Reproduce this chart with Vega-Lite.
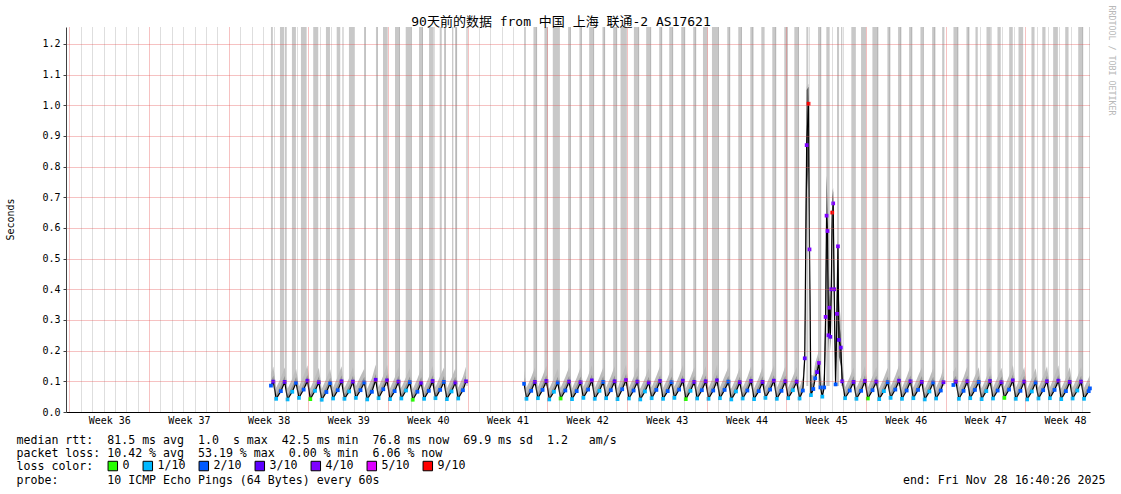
{
  "$schema": "https://vega.github.io/schema/vega-lite/v6.json",
  "width": 1024,
  "height": 385,
  "autosize": "none",
  "padding": {"left": 66, "top": 27, "right": 31, "bottom": 82},
  "background": "white",
  "config": {"view": {"stroke": null}, "font": "DejaVu Sans Mono"},
  "title": {
    "text": "90天前的数据 from 中国 上海 联通-2 AS17621",
    "font": "DejaVu Sans Mono, Noto Sans CJK SC",
    "fontSize": 13,
    "fontWeight": "normal",
    "color": "black",
    "anchor": "middle",
    "frame": "group",
    "baseline": "alphabetic",
    "offset": 0,
    "dx": -17,
    "dy": 34
  },
  "datasets": {
    "main": [
      {"t":"2025-09-17T17:00Z","m":0.086,"l":"2/10","a":0.125,"b":0.1},
      {"t":"2025-09-17T22:00Z","m":0.099,"l":"3/10","a":0.148,"b":0.118},
      {"t":"2025-09-18T04:00Z","m":0.043,"l":"1/10","a":0.079,"b":0.057},
      {"t":"2025-09-18T14:00Z","m":0.068,"l":"2/10","a":0.112,"b":0.088},
      {"t":"2025-09-18T22:00Z","m":0.098,"l":"3/10","a":0.146,"b":0.117},
      {"t":"2025-09-19T04:00Z","m":0.041,"l":"1/10","a":0.076,"b":0.055},
      {"t":"2025-09-19T14:00Z","m":0.066,"l":"1/10","a":0.108,"b":0.085},
      {"t":"2025-09-19T22:00Z","m":0.095,"l":"2/10","a":0.141,"b":0.114},
      {"t":"2025-09-20T04:00Z","m":0.046,"l":"1/10","a":0.082,"b":0.06},
      {"t":"2025-09-20T14:00Z","m":0.073,"l":"2/10","a":0.118,"b":0.092},
      {"t":"2025-09-20T22:00Z","m":0.102,"l":"3/10","a":0.152,"b":0.121},
      {"t":"2025-09-21T04:00Z","m":0.042,"l":"0","a":0.077,"b":0.056},
      {"t":"2025-09-21T14:00Z","m":0.069,"l":"1/10","a":0.113,"b":0.088},
      {"t":"2025-09-21T22:00Z","m":0.097,"l":"3/10","a":0.144,"b":0.116},
      {"t":"2025-09-22T04:00Z","m":0.04,"l":"1/10","a":0.075,"b":0.054},
      {"t":"2025-09-22T14:00Z","m":0.065,"l":"2/10","a":0.109,"b":0.084},
      {"t":"2025-09-22T22:00Z","m":0.094,"l":"2/10","a":0.139,"b":0.112},
      {"t":"2025-09-23T04:00Z","m":0.044,"l":"1/10","a":0.08,"b":0.059},
      {"t":"2025-09-23T14:00Z","m":0.071,"l":"2/10","a":0.116,"b":0.09},
      {"t":"2025-09-23T22:00Z","m":0.1,"l":"3/10","a":0.149,"b":0.119},
      {"t":"2025-09-24T04:00Z","m":0.043,"l":"1/10","a":0.078,"b":0.057},
      {"t":"2025-09-24T14:00Z","m":0.067,"l":"1/10","a":0.111,"b":0.086},
      {"t":"2025-09-24T22:00Z","m":0.099,"l":"3/10","a":0.147,"b":0.118},
      {"t":"2025-09-25T04:00Z","m":0.046,"l":"1/10","a":0.083,"b":0.061},
      {"t":"2025-09-25T14:00Z","m":0.071,"l":"2/10","a":0.117,"b":0.091},
      {"t":"2025-09-25T22:00Z","m":0.096,"l":"2/10","a":0.142,"b":0.115},
      {"t":"2025-09-26T04:00Z","m":0.041,"l":"1/10","a":0.076,"b":0.055},
      {"t":"2025-09-26T14:00Z","m":0.066,"l":"2/10","a":0.11,"b":0.085},
      {"t":"2025-09-26T22:00Z","m":0.105,"l":"3/10","a":0.155,"b":0.124},
      {"t":"2025-09-27T04:00Z","m":0.045,"l":"1/10","a":0.081,"b":0.06},
      {"t":"2025-09-27T14:00Z","m":0.074,"l":"2/10","a":0.119,"b":0.093},
      {"t":"2025-09-27T22:00Z","m":0.103,"l":"3/10","a":0.153,"b":0.122},
      {"t":"2025-09-28T04:00Z","m":0.042,"l":"1/10","a":0.077,"b":0.056},
      {"t":"2025-09-28T14:00Z","m":0.068,"l":"2/10","a":0.112,"b":0.087},
      {"t":"2025-09-28T22:00Z","m":0.099,"l":"3/10","a":0.146,"b":0.118},
      {"t":"2025-09-29T04:00Z","m":0.044,"l":"1/10","a":0.079,"b":0.058},
      {"t":"2025-09-29T14:00Z","m":0.07,"l":"1/10","a":0.114,"b":0.089},
      {"t":"2025-09-29T22:00Z","m":0.097,"l":"2/10","a":0.143,"b":0.116},
      {"t":"2025-09-30T04:00Z","m":0.04,"l":"0","a":0.074,"b":0.054},
      {"t":"2025-09-30T14:00Z","m":0.066,"l":"2/10","a":0.109,"b":0.085},
      {"t":"2025-09-30T22:00Z","m":0.095,"l":"3/10","a":0.141,"b":0.114},
      {"t":"2025-10-01T04:00Z","m":0.043,"l":"1/10","a":0.078,"b":0.057},
      {"t":"2025-10-01T14:00Z","m":0.069,"l":"2/10","a":0.113,"b":0.088},
      {"t":"2025-10-01T22:00Z","m":0.101,"l":"3/10","a":0.15,"b":0.12},
      {"t":"2025-10-02T04:00Z","m":0.045,"l":"1/10","a":0.081,"b":0.06},
      {"t":"2025-10-02T14:00Z","m":0.072,"l":"2/10","a":0.117,"b":0.091},
      {"t":"2025-10-02T22:00Z","m":0.098,"l":"2/10","a":0.145,"b":0.117},
      {"t":"2025-10-03T04:00Z","m":0.042,"l":"1/10","a":0.077,"b":0.056},
      {"t":"2025-10-03T14:00Z","m":0.067,"l":"1/10","a":0.111,"b":0.086},
      {"t":"2025-10-03T22:00Z","m":0.096,"l":"3/10","a":0.143,"b":0.115},
      {"t":"2025-10-04T04:00Z","m":0.044,"l":"1/10","a":0.079,"b":0.058},
      {"t":"2025-10-04T14:00Z","m":0.071,"l":"2/10","a":0.115,"b":0.09},
      {"t":"2025-10-04T20:30Z","m":0.1,"l":"3/10","a":0.148,"b":0.119},
      {"t":"2025-10-07T00:00Z","m":null,"l":null,"a":null,"b":null},
      {"t":"2025-10-09T23:00Z","m":0.092,"l":"2/10","a":0.138,"b":0.112},
      {"t":"2025-10-10T04:00Z","m":0.043,"l":"1/10","a":0.079,"b":0.057},
      {"t":"2025-10-10T14:00Z","m":0.069,"l":"2/10","a":0.113,"b":0.088},
      {"t":"2025-10-10T22:00Z","m":0.098,"l":"3/10","a":0.146,"b":0.117},
      {"t":"2025-10-11T04:00Z","m":0.045,"l":"1/10","a":0.081,"b":0.06},
      {"t":"2025-10-11T14:00Z","m":0.072,"l":"2/10","a":0.117,"b":0.091},
      {"t":"2025-10-11T22:00Z","m":0.101,"l":"3/10","a":0.151,"b":0.12},
      {"t":"2025-10-12T04:00Z","m":0.041,"l":"1/10","a":0.076,"b":0.055},
      {"t":"2025-10-12T14:00Z","m":0.066,"l":"1/10","a":0.11,"b":0.085},
      {"t":"2025-10-12T22:00Z","m":0.096,"l":"2/10","a":0.142,"b":0.115},
      {"t":"2025-10-13T04:00Z","m":0.044,"l":"0","a":0.079,"b":0.058},
      {"t":"2025-10-13T14:00Z","m":0.07,"l":"2/10","a":0.114,"b":0.089},
      {"t":"2025-10-13T22:00Z","m":0.099,"l":"3/10","a":0.147,"b":0.118},
      {"t":"2025-10-14T04:00Z","m":0.042,"l":"1/10","a":0.077,"b":0.056},
      {"t":"2025-10-14T14:00Z","m":0.068,"l":"2/10","a":0.112,"b":0.087},
      {"t":"2025-10-14T22:00Z","m":0.097,"l":"3/10","a":0.144,"b":0.116},
      {"t":"2025-10-15T04:00Z","m":0.046,"l":"1/10","a":0.082,"b":0.061},
      {"t":"2025-10-15T14:00Z","m":0.073,"l":"2/10","a":0.118,"b":0.092},
      {"t":"2025-10-15T22:00Z","m":0.103,"l":"3/10","a":0.153,"b":0.122},
      {"t":"2025-10-16T04:00Z","m":0.043,"l":"1/10","a":0.078,"b":0.057},
      {"t":"2025-10-16T14:00Z","m":0.069,"l":"1/10","a":0.113,"b":0.088},
      {"t":"2025-10-16T22:00Z","m":0.098,"l":"2/10","a":0.145,"b":0.117},
      {"t":"2025-10-17T04:00Z","m":0.045,"l":"1/10","a":0.08,"b":0.059},
      {"t":"2025-10-17T14:00Z","m":0.071,"l":"2/10","a":0.116,"b":0.09},
      {"t":"2025-10-17T22:00Z","m":0.1,"l":"3/10","a":0.149,"b":0.119},
      {"t":"2025-10-18T04:00Z","m":0.042,"l":"1/10","a":0.077,"b":0.056},
      {"t":"2025-10-18T14:00Z","m":0.074,"l":"2/10","a":0.119,"b":0.093},
      {"t":"2025-10-18T22:00Z","m":0.104,"l":"4/10","a":0.155,"b":0.124},
      {"t":"2025-10-19T04:00Z","m":0.044,"l":"1/10","a":0.079,"b":0.058},
      {"t":"2025-10-19T14:00Z","m":0.07,"l":"2/10","a":0.114,"b":0.089},
      {"t":"2025-10-19T22:00Z","m":0.099,"l":"3/10","a":0.147,"b":0.118},
      {"t":"2025-10-20T04:00Z","m":0.041,"l":"1/10","a":0.076,"b":0.055},
      {"t":"2025-10-20T14:00Z","m":0.067,"l":"1/10","a":0.111,"b":0.086},
      {"t":"2025-10-20T22:00Z","m":0.096,"l":"3/10","a":0.143,"b":0.115},
      {"t":"2025-10-21T04:00Z","m":0.045,"l":"1/10","a":0.081,"b":0.06},
      {"t":"2025-10-21T14:00Z","m":0.072,"l":"2/10","a":0.117,"b":0.091},
      {"t":"2025-10-21T22:00Z","m":0.101,"l":"3/10","a":0.15,"b":0.12},
      {"t":"2025-10-22T04:00Z","m":0.043,"l":"1/10","a":0.078,"b":0.057},
      {"t":"2025-10-22T14:00Z","m":0.068,"l":"2/10","a":0.112,"b":0.087},
      {"t":"2025-10-22T22:00Z","m":0.097,"l":"2/10","a":0.144,"b":0.116},
      {"t":"2025-10-23T04:00Z","m":0.046,"l":"1/10","a":0.082,"b":0.061},
      {"t":"2025-10-23T14:00Z","m":0.073,"l":"2/10","a":0.118,"b":0.092},
      {"t":"2025-10-23T22:00Z","m":0.102,"l":"3/10","a":0.152,"b":0.121},
      {"t":"2025-10-24T04:00Z","m":0.042,"l":"0","a":0.077,"b":0.056},
      {"t":"2025-10-24T14:00Z","m":0.069,"l":"1/10","a":0.113,"b":0.088},
      {"t":"2025-10-24T22:00Z","m":0.098,"l":"3/10","a":0.146,"b":0.117},
      {"t":"2025-10-25T04:00Z","m":0.044,"l":"1/10","a":0.079,"b":0.058},
      {"t":"2025-10-25T14:00Z","m":0.071,"l":"2/10","a":0.116,"b":0.09},
      {"t":"2025-10-25T22:00Z","m":0.1,"l":"3/10","a":0.149,"b":0.119},
      {"t":"2025-10-26T04:00Z","m":0.043,"l":"1/10","a":0.078,"b":0.057},
      {"t":"2025-10-26T14:00Z","m":0.07,"l":"2/10","a":0.115,"b":0.09},
      {"t":"2025-10-26T22:00Z","m":0.103,"l":"3/10","a":0.153,"b":0.122},
      {"t":"2025-10-27T04:00Z","m":0.045,"l":"1/10","a":0.08,"b":0.059},
      {"t":"2025-10-27T14:00Z","m":0.072,"l":"2/10","a":0.117,"b":0.091},
      {"t":"2025-10-27T22:00Z","m":0.099,"l":"2/10","a":0.147,"b":0.118},
      {"t":"2025-10-28T04:00Z","m":0.041,"l":"1/10","a":0.076,"b":0.055},
      {"t":"2025-10-28T14:00Z","m":0.067,"l":"1/10","a":0.111,"b":0.086},
      {"t":"2025-10-28T22:00Z","m":0.097,"l":"3/10","a":0.144,"b":0.116},
      {"t":"2025-10-29T04:00Z","m":0.044,"l":"1/10","a":0.079,"b":0.058},
      {"t":"2025-10-29T14:00Z","m":0.07,"l":"2/10","a":0.114,"b":0.089},
      {"t":"2025-10-29T22:00Z","m":0.101,"l":"3/10","a":0.15,"b":0.12},
      {"t":"2025-10-30T04:00Z","m":0.042,"l":"1/10","a":0.077,"b":0.056},
      {"t":"2025-10-30T14:00Z","m":0.068,"l":"2/10","a":0.112,"b":0.087},
      {"t":"2025-10-30T22:00Z","m":0.098,"l":"3/10","a":0.146,"b":0.117},
      {"t":"2025-10-31T04:00Z","m":0.046,"l":"1/10","a":0.082,"b":0.061},
      {"t":"2025-10-31T14:00Z","m":0.073,"l":"2/10","a":0.118,"b":0.092},
      {"t":"2025-10-31T22:00Z","m":0.102,"l":"3/10","a":0.152,"b":0.121},
      {"t":"2025-11-01T04:00Z","m":0.043,"l":"1/10","a":0.078,"b":0.057},
      {"t":"2025-11-01T14:00Z","m":0.069,"l":"2/10","a":0.113,"b":0.088},
      {"t":"2025-11-01T22:00Z","m":0.1,"l":"3/10","a":0.149,"b":0.119},
      {"t":"2025-11-02T04:00Z","m":0.045,"l":"1/10","a":0.08,"b":0.059},
      {"t":"2025-11-02T14:00Z","m":0.071,"l":"1/10","a":0.116,"b":0.09},
      {"t":"2025-11-02T22:00Z","m":0.099,"l":"3/10","a":0.147,"b":0.118},
      {"t":"2025-11-03T04:00Z","m":0.044,"l":"1/10","a":0.079,"b":0.058},
      {"t":"2025-11-03T11:00Z","m":0.07,"l":"2/10","a":0.115,"b":0.09},
      {"t":"2025-11-03T15:00Z","m":0.175,"l":"3/10","a":0.23,"b":0.2},
      {"t":"2025-11-03T19:00Z","m":0.87,"l":"4/10","a":1.06,"b":0.98},
      {"t":"2025-11-03T23:00Z","m":1.005,"l":"9/10","a":1.07,"b":1.04},
      {"t":"2025-11-04T01:00Z","m":0.53,"l":"4/10","a":0.72,"b":0.62},
      {"t":"2025-11-04T04:00Z","m":0.055,"l":"1/10","a":0.12,"b":0.09},
      {"t":"2025-11-04T09:00Z","m":0.075,"l":"2/10","a":0.12,"b":0.095},
      {"t":"2025-11-04T13:00Z","m":0.11,"l":"2/10","a":0.16,"b":0.13},
      {"t":"2025-11-04T17:00Z","m":0.13,"l":"3/10","a":0.18,"b":0.155},
      {"t":"2025-11-04T21:00Z","m":0.16,"l":"4/10","a":0.2,"b":0.18},
      {"t":"2025-11-05T00:00Z","m":0.08,"l":"2/10","a":0.13,"b":0.1},
      {"t":"2025-11-05T04:00Z","m":0.05,"l":"1/10","a":0.09,"b":0.07},
      {"t":"2025-11-05T08:00Z","m":0.08,"l":"2/10","a":0.13,"b":0.1},
      {"t":"2025-11-05T11:00Z","m":0.31,"l":"4/10","a":0.45,"b":0.38},
      {"t":"2025-11-05T13:00Z","m":0.64,"l":"4/10","a":0.77,"b":0.7},
      {"t":"2025-11-05T15:00Z","m":0.59,"l":"4/10","a":0.7,"b":0.64},
      {"t":"2025-11-05T17:00Z","m":0.25,"l":"4/10","a":0.4,"b":0.3},
      {"t":"2025-11-05T19:00Z","m":0.34,"l":"4/10","a":0.45,"b":0.39},
      {"t":"2025-11-05T21:00Z","m":0.245,"l":"3/10","a":0.35,"b":0.29},
      {"t":"2025-11-05T23:00Z","m":0.4,"l":"4/10","a":0.55,"b":0.47},
      {"t":"2025-11-06T01:00Z","m":0.65,"l":"9/10","a":0.72,"b":0.68},
      {"t":"2025-11-06T03:00Z","m":0.68,"l":"4/10","a":0.73,"b":0.7},
      {"t":"2025-11-06T05:00Z","m":0.4,"l":"4/10","a":0.55,"b":0.47},
      {"t":"2025-11-06T08:00Z","m":0.09,"l":"2/10","a":0.2,"b":0.14},
      {"t":"2025-11-06T11:00Z","m":0.32,"l":"4/10","a":0.5,"b":0.4},
      {"t":"2025-11-06T13:00Z","m":0.54,"l":"4/10","a":0.6,"b":0.56},
      {"t":"2025-11-06T15:00Z","m":0.235,"l":"3/10","a":0.37,"b":0.3},
      {"t":"2025-11-06T19:00Z","m":0.21,"l":"3/10","a":0.3,"b":0.25},
      {"t":"2025-11-06T22:00Z","m":0.1,"l":"3/10","a":0.16,"b":0.13},
      {"t":"2025-11-07T04:00Z","m":0.045,"l":"1/10","a":0.081,"b":0.06},
      {"t":"2025-11-07T14:00Z","m":0.07,"l":"2/10","a":0.114,"b":0.089},
      {"t":"2025-11-07T22:00Z","m":0.098,"l":"3/10","a":0.146,"b":0.117},
      {"t":"2025-11-08T04:00Z","m":0.043,"l":"1/10","a":0.078,"b":0.057},
      {"t":"2025-11-08T14:00Z","m":0.069,"l":"2/10","a":0.113,"b":0.088},
      {"t":"2025-11-08T22:00Z","m":0.101,"l":"3/10","a":0.15,"b":0.12},
      {"t":"2025-11-09T04:00Z","m":0.044,"l":"0","a":0.079,"b":0.058},
      {"t":"2025-11-09T14:00Z","m":0.071,"l":"2/10","a":0.116,"b":0.09},
      {"t":"2025-11-09T22:00Z","m":0.099,"l":"3/10","a":0.147,"b":0.118},
      {"t":"2025-11-10T04:00Z","m":0.042,"l":"1/10","a":0.077,"b":0.056},
      {"t":"2025-11-10T14:00Z","m":0.068,"l":"1/10","a":0.112,"b":0.087},
      {"t":"2025-11-10T22:00Z","m":0.097,"l":"2/10","a":0.144,"b":0.116},
      {"t":"2025-11-11T04:00Z","m":0.046,"l":"1/10","a":0.082,"b":0.061},
      {"t":"2025-11-11T14:00Z","m":0.073,"l":"2/10","a":0.118,"b":0.092},
      {"t":"2025-11-11T22:00Z","m":0.102,"l":"3/10","a":0.152,"b":0.121},
      {"t":"2025-11-12T04:00Z","m":0.043,"l":"1/10","a":0.078,"b":0.057},
      {"t":"2025-11-12T14:00Z","m":0.07,"l":"2/10","a":0.115,"b":0.09},
      {"t":"2025-11-12T22:00Z","m":0.1,"l":"3/10","a":0.149,"b":0.119},
      {"t":"2025-11-13T04:00Z","m":0.045,"l":"1/10","a":0.08,"b":0.059},
      {"t":"2025-11-13T14:00Z","m":0.072,"l":"2/10","a":0.117,"b":0.091},
      {"t":"2025-11-13T22:00Z","m":0.098,"l":"3/10","a":0.146,"b":0.117},
      {"t":"2025-11-14T04:00Z","m":0.041,"l":"1/10","a":0.076,"b":0.055},
      {"t":"2025-11-14T14:00Z","m":0.067,"l":"1/10","a":0.111,"b":0.086},
      {"t":"2025-11-14T22:00Z","m":0.096,"l":"2/10","a":0.143,"b":0.115},
      {"t":"2025-11-15T04:00Z","m":0.044,"l":"1/10","a":0.079,"b":0.058},
      {"t":"2025-11-15T14:00Z","m":0.07,"l":"2/10","a":0.114,"b":0.089},
      {"t":"2025-11-15T19:40Z","m":0.097,"l":"3/10","a":0.145,"b":0.117},
      {"t":"2025-11-16T06:00Z","m":null,"l":null,"a":null,"b":null},
      {"t":"2025-11-16T16:30Z","m":0.088,"l":"2/10","a":0.132,"b":0.106},
      {"t":"2025-11-16T22:00Z","m":0.099,"l":"3/10","a":0.147,"b":0.118},
      {"t":"2025-11-17T04:00Z","m":0.043,"l":"1/10","a":0.078,"b":0.057},
      {"t":"2025-11-17T14:00Z","m":0.069,"l":"2/10","a":0.113,"b":0.088},
      {"t":"2025-11-17T22:00Z","m":0.1,"l":"3/10","a":0.149,"b":0.119},
      {"t":"2025-11-18T04:00Z","m":0.045,"l":"1/10","a":0.081,"b":0.06},
      {"t":"2025-11-18T14:00Z","m":0.072,"l":"2/10","a":0.117,"b":0.091},
      {"t":"2025-11-18T22:00Z","m":0.098,"l":"2/10","a":0.146,"b":0.117},
      {"t":"2025-11-19T04:00Z","m":0.042,"l":"1/10","a":0.077,"b":0.056},
      {"t":"2025-11-19T14:00Z","m":0.068,"l":"1/10","a":0.112,"b":0.087},
      {"t":"2025-11-19T22:00Z","m":0.101,"l":"3/10","a":0.15,"b":0.12},
      {"t":"2025-11-20T04:00Z","m":0.044,"l":"1/10","a":0.079,"b":0.058},
      {"t":"2025-11-20T14:00Z","m":0.07,"l":"2/10","a":0.114,"b":0.089},
      {"t":"2025-11-20T22:00Z","m":0.097,"l":"3/10","a":0.144,"b":0.116},
      {"t":"2025-11-21T04:00Z","m":0.046,"l":"0","a":0.082,"b":0.061},
      {"t":"2025-11-21T14:00Z","m":0.073,"l":"2/10","a":0.118,"b":0.092},
      {"t":"2025-11-21T22:00Z","m":0.103,"l":"3/10","a":0.153,"b":0.122},
      {"t":"2025-11-22T04:00Z","m":0.043,"l":"1/10","a":0.078,"b":0.057},
      {"t":"2025-11-22T14:00Z","m":0.069,"l":"2/10","a":0.113,"b":0.088},
      {"t":"2025-11-22T22:00Z","m":0.099,"l":"3/10","a":0.147,"b":0.118},
      {"t":"2025-11-23T04:00Z","m":0.041,"l":"1/10","a":0.076,"b":0.055},
      {"t":"2025-11-23T14:00Z","m":0.067,"l":"1/10","a":0.111,"b":0.086},
      {"t":"2025-11-23T22:00Z","m":0.096,"l":"2/10","a":0.143,"b":0.115},
      {"t":"2025-11-24T04:00Z","m":0.044,"l":"1/10","a":0.079,"b":0.058},
      {"t":"2025-11-24T14:00Z","m":0.071,"l":"2/10","a":0.116,"b":0.09},
      {"t":"2025-11-24T22:00Z","m":0.1,"l":"3/10","a":0.149,"b":0.119},
      {"t":"2025-11-25T04:00Z","m":0.045,"l":"1/10","a":0.08,"b":0.059},
      {"t":"2025-11-25T14:00Z","m":0.072,"l":"2/10","a":0.117,"b":0.091},
      {"t":"2025-11-25T22:00Z","m":0.102,"l":"3/10","a":0.152,"b":0.121},
      {"t":"2025-11-26T04:00Z","m":0.042,"l":"1/10","a":0.077,"b":0.056},
      {"t":"2025-11-26T14:00Z","m":0.068,"l":"2/10","a":0.112,"b":0.087},
      {"t":"2025-11-26T22:00Z","m":0.098,"l":"3/10","a":0.146,"b":0.117},
      {"t":"2025-11-27T04:00Z","m":0.044,"l":"1/10","a":0.079,"b":0.058},
      {"t":"2025-11-27T14:00Z","m":0.07,"l":"1/10","a":0.114,"b":0.089},
      {"t":"2025-11-27T22:00Z","m":0.099,"l":"3/10","a":0.147,"b":0.118},
      {"t":"2025-11-28T04:00Z","m":0.043,"l":"1/10","a":0.078,"b":0.057},
      {"t":"2025-11-28T14:00Z","m":0.068,"l":"2/10","a":0.112,"b":0.087},
      {"t":"2025-11-28T16:30Z","m":0.077,"l":"2/10","a":0.12,"b":0.095}
    ],
    "spike": [
      {"t":"2025-11-03T15:00Z","lo":0.12,"hi":0.22},
      {"t":"2025-11-03T19:00Z","lo":0.71,"hi":1.05},
      {"t":"2025-11-03T23:00Z","lo":0.8,"hi":1.06},
      {"t":"2025-11-04T01:00Z","lo":0.45,"hi":0.6},
      {"t":"2025-11-04T04:00Z","lo":0.05,"hi":0.07},
      {"t":"2025-11-04T12:00Z","lo":null,"hi":null},
      {"t":"2025-11-05T08:00Z","lo":0.07,"hi":0.09},
      {"t":"2025-11-05T11:00Z","lo":0.2,"hi":0.35},
      {"t":"2025-11-05T13:00Z","lo":0.5,"hi":0.77},
      {"t":"2025-11-05T15:00Z","lo":0.45,"hi":0.66},
      {"t":"2025-11-05T17:00Z","lo":0.2,"hi":0.3},
      {"t":"2025-11-05T19:00Z","lo":0.28,"hi":0.4},
      {"t":"2025-11-05T21:00Z","lo":0.2,"hi":0.3},
      {"t":"2025-11-05T23:00Z","lo":0.35,"hi":0.5},
      {"t":"2025-11-06T01:00Z","lo":0.55,"hi":0.7},
      {"t":"2025-11-06T03:00Z","lo":0.6,"hi":0.72},
      {"t":"2025-11-06T05:00Z","lo":0.3,"hi":0.45},
      {"t":"2025-11-06T08:00Z","lo":0.08,"hi":0.15},
      {"t":"2025-11-06T11:00Z","lo":0.25,"hi":0.4},
      {"t":"2025-11-06T13:00Z","lo":0.4,"hi":0.56},
      {"t":"2025-11-06T15:00Z","lo":0.18,"hi":0.3},
      {"t":"2025-11-06T19:00Z","lo":0.15,"hi":0.25},
      {"t":"2025-11-06T22:00Z","lo":0.08,"hi":0.12}
    ],
    "bars": [
      {"t":"2025-09-17T17:00Z","e":"2025-09-17T21:00Z"},
      {"t":"2025-09-18T12:00Z","e":"2025-09-18T21:00Z"},
      {"t":"2025-09-18T22:30Z","e":"2025-09-19T01:10Z"},
      {"t":"2025-09-19T13:15Z","e":"2025-09-19T21:40Z"},
      {"t":"2025-09-20T08:15Z","e":"2025-09-20T20:15Z"},
      {"t":"2025-09-21T10:10Z","e":"2025-09-21T20:45Z"},
      {"t":"2025-09-22T13:00Z","e":"2025-09-22T21:30Z"},
      {"t":"2025-09-23T11:40Z","e":"2025-09-23T19:10Z"},
      {"t":"2025-09-23T23:20Z","e":"2025-09-24T00:40Z"},
      {"t":"2025-09-24T13:30Z","e":"2025-09-25T00:45Z"},
      {"t":"2025-09-25T21:15Z","e":"2025-09-26T00:50Z"},
      {"t":"2025-09-26T22:30Z","e":"2025-09-27T02:10Z"},
      {"t":"2025-09-27T13:20Z","e":"2025-09-27T23:15Z"},
      {"t":"2025-09-28T14:40Z","e":"2025-09-29T01:10Z"},
      {"t":"2025-09-29T13:15Z","e":"2025-09-30T01:55Z"},
      {"t":"2025-09-30T17:20Z","e":"2025-10-01T01:45Z"},
      {"t":"2025-10-01T14:30Z","e":"2025-10-02T00:20Z"},
      {"t":"2025-10-02T13:00Z","e":"2025-10-02T17:15Z"},
      {"t":"2025-10-02T22:05Z","e":"2025-10-03T01:40Z"},
      {"t":"2025-10-03T15:00Z","e":"2025-10-03T17:45Z"},
      {"t":"2025-10-03T21:20Z","e":"2025-10-04T01:40Z"},
      {"t":"2025-10-04T21:10Z","e":"2025-10-05T00:00Z"},
      {"t":"2025-10-09T23:00Z","e":"2025-10-10T01:40Z"},
      {"t":"2025-10-10T18:40Z","e":"2025-10-11T02:25Z"},
      {"t":"2025-10-11T17:50Z","e":"2025-10-12T01:00Z"},
      {"t":"2025-10-12T11:30Z","e":"2025-10-13T01:30Z"},
      {"t":"2025-10-13T19:50Z","e":"2025-10-14T01:35Z"},
      {"t":"2025-10-14T19:40Z","e":"2025-10-15T00:45Z"},
      {"t":"2025-10-15T16:15Z","e":"2025-10-16T02:45Z"},
      {"t":"2025-10-16T20:15Z","e":"2025-10-17T01:55Z"},
      {"t":"2025-10-17T18:55Z","e":"2025-10-18T03:20Z"},
      {"t":"2025-10-18T10:20Z","e":"2025-10-18T23:45Z"},
      {"t":"2025-10-19T14:35Z","e":"2025-10-20T01:45Z"},
      {"t":"2025-10-20T16:30Z","e":"2025-10-21T03:05Z"},
      {"t":"2025-10-21T20:00Z","e":"2025-10-22T02:20Z"},
      {"t":"2025-10-22T17:05Z","e":"2025-10-23T01:30Z"},
      {"t":"2025-10-23T18:25Z","e":"2025-10-24T02:50Z"},
      {"t":"2025-10-24T19:45Z","e":"2025-10-25T02:05Z"},
      {"t":"2025-10-25T16:15Z","e":"2025-10-26T01:55Z"},
      {"t":"2025-10-26T11:15Z","e":"2025-10-27T02:00Z"},
      {"t":"2025-10-27T19:30Z","e":"2025-10-28T01:50Z"},
      {"t":"2025-10-28T18:45Z","e":"2025-10-29T02:30Z"},
      {"t":"2025-10-29T20:05Z","e":"2025-10-30T03:05Z"},
      {"t":"2025-10-30T19:20Z","e":"2025-10-31T01:00Z"},
      {"t":"2025-10-31T18:30Z","e":"2025-11-01T02:55Z"},
      {"t":"2025-11-01T19:50Z","e":"2025-11-02T03:40Z"},
      {"t":"2025-11-02T17:00Z","e":"2025-11-03T02:55Z"},
      {"t":"2025-11-03T18:20Z","e":"2025-11-03T22:30Z"},
      {"t":"2025-11-04T19:00Z","e":"2025-11-05T01:55Z"},
      {"t":"2025-11-05T12:30Z","e":"2025-11-05T19:30Z"},
      {"t":"2025-11-06T11:00Z","e":"2025-11-06T15:20Z"},
      {"t":"2025-11-06T19:35Z","e":"2025-11-06T22:15Z"},
      {"t":"2025-11-07T17:15Z","e":"2025-11-08T01:45Z"},
      {"t":"2025-11-08T13:45Z","e":"2025-11-09T00:20Z"},
      {"t":"2025-11-09T13:40Z","e":"2025-11-10T02:20Z"},
      {"t":"2025-11-10T21:20Z","e":"2025-11-11T03:40Z"},
      {"t":"2025-11-11T19:50Z","e":"2025-11-12T02:50Z"},
      {"t":"2025-11-12T19:05Z","e":"2025-11-13T02:00Z"},
      {"t":"2025-11-13T19:00Z","e":"2025-11-14T01:55Z"},
      {"t":"2025-11-14T19:40Z","e":"2025-11-15T02:40Z"},
      {"t":"2025-11-15T16:50Z","e":"2025-11-15T21:35Z"},
      {"t":"2025-11-16T16:40Z","e":"2025-11-17T03:10Z"},
      {"t":"2025-11-17T20:05Z","e":"2025-11-18T02:25Z"},
      {"t":"2025-11-18T15:05Z","e":"2025-11-18T19:55Z"},
      {"t":"2025-11-19T14:20Z","e":"2025-11-19T23:25Z"},
      {"t":"2025-11-20T13:30Z","e":"2025-11-20T20:25Z"},
      {"t":"2025-11-21T14:10Z","e":"2025-11-21T21:45Z"},
      {"t":"2025-11-22T09:50Z","e":"2025-11-22T19:40Z"},
      {"t":"2025-11-23T13:10Z","e":"2025-11-23T19:40Z"},
      {"t":"2025-11-24T12:00Z","e":"2025-11-24T18:50Z"},
      {"t":"2025-11-25T11:00Z","e":"2025-11-25T20:55Z"},
      {"t":"2025-11-26T12:25Z","e":"2025-11-26T19:25Z"},
      {"t":"2025-11-27T15:50Z","e":"2025-11-28T02:25Z"},
      {"t":"2025-11-28T15:05Z","e":"2025-11-28T16:40Z"}
    ]
  },
  "encoding": {
    "x": {
      "field": "t",
      "type": "temporal",
      "scale": {"type": "utc", "domain": ["2025-08-30T16:40:26Z", "2025-11-28T16:40:26Z"], "nice": false},
      "axis": {
        "orient": "bottom",
        "tickCount": {"interval": "day", "step": 1},
        "grid": true,
        "gridColor": {"condition": {"test": "utcday(datum.value) === 0", "value": "rgba(229,80,80,0.7)"}, "value": "rgba(143,143,143,0.6)"},
        "gridDash": [1, 1],
        "gridWidth": 1,
        "ticks": false,
        "domain": true,
        "domainColor": "#000000",
        "domainWidth": 1,
        "labelExpr": "utcday(datum.value) === 3 ? 'Week ' + utcFormat(datum.value, '%V') : ''",
        "labelOffset": 5.7,
        "labelAlign": "center",
        "labelBaseline": "top",
        "labelFont": "DejaVu Sans Mono",
        "labelFontSize": 10,
        "labelColor": "#000000",
        "labelPadding": 3,
        "labelOverlap": false,
        "labelFlush": false,
        "labelBound": false,
        "labelLimit": 200,
        "title": [
          "median\u00a0rtt:\u00a0\u00a081.5\u00a0ms\u00a0avg\u00a0\u00a01.0\u00a0\u00a0s\u00a0max\u00a0\u00a042.5\u00a0ms\u00a0min\u00a0\u00a076.8\u00a0ms\u00a0now\u00a0\u00a069.9\u00a0ms\u00a0sd\u00a0\u00a01.2\u00a0\u00a0\u00a0am/s",
          "packet\u00a0loss:\u00a010.42\u00a0%\u00a0avg\u00a0\u00a053.19\u00a0%\u00a0max\u00a0\u00a00.00\u00a0%\u00a0min\u00a0\u00a06.06\u00a0%\u00a0now",
          "loss\u00a0color:",
          "probe:\u00a0\u00a0\u00a0\u00a0\u00a0\u00a0\u00a010\u00a0ICMP\u00a0Echo\u00a0Pings\u00a0(64\u00a0Bytes)\u00a0every\u00a060s\u00a0\u00a0\u00a0\u00a0\u00a0\u00a0\u00a0\u00a0\u00a0\u00a0\u00a0\u00a0\u00a0\u00a0\u00a0\u00a0\u00a0\u00a0\u00a0\u00a0\u00a0\u00a0\u00a0\u00a0\u00a0\u00a0\u00a0\u00a0\u00a0\u00a0\u00a0\u00a0\u00a0\u00a0\u00a0\u00a0\u00a0\u00a0\u00a0\u00a0\u00a0\u00a0\u00a0\u00a0\u00a0\u00a0\u00a0\u00a0\u00a0\u00a0\u00a0\u00a0\u00a0\u00a0\u00a0\u00a0\u00a0\u00a0\u00a0\u00a0\u00a0\u00a0\u00a0\u00a0\u00a0\u00a0\u00a0\u00a0\u00a0\u00a0\u00a0\u00a0\u00a0\u00a0\u00a0end:\u00a0Fri\u00a0Nov\u00a028\u00a016:40:26\u00a02025"
        ],
        "titleFont": "DejaVu Sans Mono",
        "titleFontSize": 11.6,
        "titleFontWeight": "normal",
        "titleColor": "#000000",
        "titleAlign": "left",
        "titleBaseline": "alphabetic",
        "titleX": -50,
        "titleY": 31,
        "titleLineHeight": 13.4,
        "titleLimit": 3000,
        "zindex": 1
      }
    }
  },
  "resolve": {"axis": {"y": "independent"}},
  "layer": [
    {
      "data": {"name": "bars"},
      "mark": {"type": "rect", "color": "#c8c8c8", "clip": true},
      "encoding": {
        "x2": {"field": "e"},
        "y": {
          "datum": 0.085,
          "type": "quantitative",
          "scale": {"domain": [0, 1.255], "nice": false, "zero": false},
          "axis": {
            "orient": "right",
            "labels": false,
            "ticks": false,
            "domain": false,
            "grid": false,
            "title": "RRDTOOL / TOBI OETIKER",
            "titleFont": "DejaVu Sans Mono",
            "titleFontSize": 8.3,
            "titleFontWeight": "normal",
            "titleColor": "#b8b8b8",
            "titleAngle": 90,
            "titleAlign": "left",
            "titleBaseline": "middle",
            "titleX": 20,
            "titleY": -22
          }
        },
        "y2": {"datum": 1.3}
      }
    },
    {
      "data": {"name": "main"},
      "mark": {"type": "area", "color": "#bdbdbd", "opacity": 1, "invalid": "break-paths-filter-domains"},
      "encoding": {
        "y": {
          "field": "m",
          "type": "quantitative",
          "scale": {"domain": [0, 1.255], "nice": false, "zero": false},
          "axis": {
            "orient": "left",
            "values": [0, 0.1, 0.2, 0.3, 0.4, 0.5, 0.6, 0.7, 0.8, 0.9, 1.0, 1.1, 1.2],
            "format": ".1f",
            "grid": true,
            "gridColor": "rgba(229,80,80,0.7)",
            "gridDash": [1, 1],
            "gridWidth": 1,
            "domain": true,
            "domainColor": "#404040",
            "tickSize": 3,
            "tickColor": "#404040",
            "labelFont": "DejaVu Sans Mono",
            "labelFontSize": 10,
            "labelColor": "#000000",
            "labelPadding": 3,
            "title": "Seconds",
            "titleFont": "DejaVu Sans Mono",
            "titleFontSize": 10,
            "titleFontWeight": "normal",
            "titleColor": "#000000",
            "titleAngle": -90,
            "titleAlign": "center",
            "titleBaseline": "middle",
            "titleX": -56,
            "titleY": 192,
            "zindex": 1
          }
        },
        "y2": {"field": "a"}
      }
    },
    {
      "data": {"name": "main"},
      "mark": {"type": "area", "color": "#959595", "opacity": 1, "invalid": "break-paths-filter-domains"},
      "encoding": {
        "y": {"field": "m", "type": "quantitative", "scale": {"domain": [0, 1.255], "nice": false, "zero": false}, "axis": null},
        "y2": {"field": "b"}
      }
    },
    {
      "data": {"name": "spike"},
      "mark": {"type": "area", "color": "#5e5e5e", "opacity": 1, "invalid": "break-paths-filter-domains"},
      "encoding": {
        "y": {"field": "lo", "type": "quantitative", "scale": {"domain": [0, 1.255], "nice": false, "zero": false}, "axis": null},
        "y2": {"field": "hi"}
      }
    },
    {
      "data": {"name": "main"},
      "mark": {"type": "line", "color": "#000000", "strokeWidth": 1.2, "invalid": "break-paths-filter-domains"},
      "encoding": {
        "y": {"field": "m", "type": "quantitative", "scale": {"domain": [0, 1.255], "nice": false, "zero": false}, "axis": null}
      }
    },
    {
      "data": {"name": "main"},
      "mark": {"type": "point", "shape": "square", "filled": true, "size": 14, "opacity": 1},
      "encoding": {
        "y": {"field": "m", "type": "quantitative", "scale": {"domain": [0, 1.255], "nice": false, "zero": false}, "axis": null},
        "color": {
          "field": "l",
          "type": "nominal",
          "scale": {
            "domain": ["0", "1/10", "2/10", "3/10", "4/10", "5/10", "9/10"],
            "range": ["#26ff00", "#00b8ff", "#0059ff", "#5e00ff", "#7e00ff", "#dd00ff", "#ff0000"]
          },
          "legend": {
            "orient": "none",
            "legendX": 41,
            "legendY": 433,
            "direction": "horizontal",
            "title": null,
            "symbolType": "square",
            "symbolSize": 90,
            "symbolStrokeColor": "#000000",
            "symbolStrokeWidth": 1,
            "symbolOpacity": 1,
            "labelFont": "DejaVu Sans Mono",
            "labelFontSize": 11.6,
            "labelColor": "#000000",
            "labelOffset": 4,
            "columnPadding": 11,
            "padding": 0,
            "labelLimit": 0
          }
        }
      }
    },
    {
      "data": {"values": [{}]},
      "mark": {"type": "point", "shape": "triangle-right", "filled": true, "color": "#800000", "size": 30, "opacity": 1, "xOffset": 4},
      "encoding": {
        "x": {"datum": {"year": 2025, "month": 11, "date": 28, "hours": 16, "minutes": 40, "seconds": 26, "utc": true}, "type": "temporal"},
        "y": {"datum": 0, "type": "quantitative", "scale": {"domain": [0, 1.255], "nice": false, "zero": false}, "axis": null}
      }
    },
    {
      "data": {"values": [{}]},
      "mark": {"type": "point", "shape": "triangle-up", "filled": true, "color": "#800000", "size": 30, "opacity": 1, "yOffset": -4},
      "encoding": {
        "x": {"datum": {"year": 2025, "month": 8, "date": 30, "hours": 16, "minutes": 40, "seconds": 26, "utc": true}, "type": "temporal"},
        "y": {"datum": 1.255, "type": "quantitative", "scale": {"domain": [0, 1.255], "nice": false, "zero": false}, "axis": null}
      }
    }
  ]
}
